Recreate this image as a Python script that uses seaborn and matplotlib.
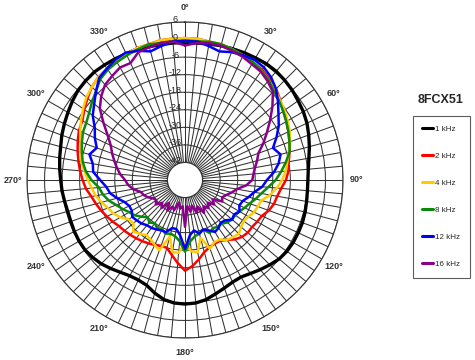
import numpy as np
import pandas as pd
import matplotlib
matplotlib.use("Agg")
import matplotlib.pyplot as plt
from matplotlib.lines import Line2D
import seaborn as sns

sns.set_style("white")
plt.rcParams['font.family'] = ['Liberation Sans', 'DejaVu Sans']

title = "8FCX51"
angles_deg = list(range(0, 360, 5))

db_1k = [-1, -1, -0.8, -0.5, -0.3, 0, 0.2, 0.5, 0.5, 0.2, -0.2, -0.8, -1.3, -2, -3, -4, -5, -5.7,
         -6, -6, -5.8, -5.5, -5.3, -5.3, -5.3, -5.5, -6, -7, -8, -9, -9.7, -9.5, -8.7, -7.7, -6.5, -5.8,
         -5.6, -5.8, -6.5, -8, -9.7, -10.3, -10.2, -9.5, -8.5, -7.5, -6.8, -6.3, -6.2, -6.3, -6.5, -6.5, -6.2, -5.8,
         -5.5, -5, -4.5, -4, -3.2, -2.5, -1.8, -1, -0.3, 0, 0.2, 0, -0.2, -0.4, -0.6, -0.8, -1, -1]
db_2k = [0.5, 0.5, 0, 0, -0.5, -1, -1.5, -2, -3, -4, -5.5, -7, -8, -9, -10, -11, -12, -12.5,
         -13.5, -15, -16, -16.5, -17.5, -19, -19.5, -20, -20, -20.5, -21.5, -23, -24, -24, -23.5, -22.5, -20.5, -18.5,
         -17, -19.5, -22, -24, -24, -23.5, -23, -22.5, -22, -21.5, -21, -20.5, -19.5, -18.5, -17.5, -16.5, -15.5, -14,
         -13, -12, -11, -10, -9, -8, -7.5, -6, -4.5, -3, -2, -1.5, -1, -0.5, 0, 0, 0.5, 0.5]
db_4k = [0.5, 0.5, 0, 0, -0.5, -1, -1.5, -2.5, -3.5, -4.5, -5.6, -6.5, -7.5, -8.5, -9.8, -11.3, -12.5, -13.5,
         -14.8, -16.5, -18.5, -21, -21.5, -22, -23, -23.5, -23, -22, -22.5, -23, -24.5, -24.5, -23, -27.5, -23, -23.5,
         -26.5, -23, -23, -28, -22.5, -23.5, -24.5, -25, -24, -23, -25, -24.5, -22.5, -21, -20, -18.5, -17, -16,
         -14.8, -13.5, -12, -11, -10, -8.5, -7, -5.5, -4, -3, -2, -1.5, -1, -0.5, 0, 0, 0.5, 0.5]
db_8k = [-0.5, -0.5, 0, 0, -0.5, -1, -1.5, -2.5, -3.5, -5, -6, -7, -8, -9, -10, -11, -13, -15,
         -17, -19.5, -21.5, -23, -24.5, -25.5, -26.5, -27, -27, -27.5, -28.5, -28.5, -29, -28, -30, -29, -28.5, -27,
         -23.5, -27, -28.5, -29, -28.5, -29.5, -29, -30, -29, -30, -28.5, -27, -26, -24.5, -23, -21, -19.5, -18.5,
         -16, -14, -12.5, -11.5, -10.5, -9.5, -9, -8, -6.5, -5, -3, -2, -1.5, -1, -0.5, 0, -0.5, -0.5]
db_12k = [-0.5, -0.5, -1.5, -2.5, -1.5, -1, -0.5, -1, -2.2, -4, -6.5, -9, -11, -13.5, -16, -14.2, -15.5, -17.5,
          -20, -21.5, -24, -25.5, -27, -27.5, -26.5, -27.5, -27, -28.5, -29, -28, -27.5, -29, -30, -29, -30.5, -29,
          -24.5, -29, -31, -31, -29, -29, -28.5, -28, -27.8, -27, -26.5, -26, -27, -27, -26, -24, -22, -21,
          -19, -16.5, -16, -14.2, -15.9, -14, -12.4, -9.5, -7.5, -5, -2.4, -1.5, -0.5, 0, -1, -2.5, -1.5, -0.5]
db_16k = [-2, -1, -0.5, -0.5, -1, -1.5, -2.3, -2.8, -4, -5.5, -9, -12.5, -15.7, -18.5, -21.3, -22.5, -23.7, -24.5,
          -25, -27, -30, -31.5, -33, -34, -33.3, -36.5, -35, -37, -35.5, -37, -35, -38, -36, -39, -37, -39,
          -32, -39, -38, -40, -37, -38, -36, -38.5, -35.5, -37, -35, -36, -35.5, -34, -33, -32.3, -30, -28.5,
          -27.5, -25.8, -24.4, -23, -21.5, -20, -17.5, -14, -10, -7.5, -5.5, -4.6, -3.6, -3.9, -1.5, -1, -0.5, -0.5]

series_names = ["1 kHz", "2 kHz", "4 kHz", "8 kHz", "12 kHz", "16 kHz"]
series_values = [db_1k, db_2k, db_4k, db_8k, db_12k, db_16k]
series_colors = ["#000000", "#ff0000", "#ffcc00", "#0a8a0a", "#0000ff", "#8b008b"]
series_widths = [2.4, 1.8, 1.8, 1.8, 1.8, 1.8]

ring_ticks = [6, 0, -6, -12, -18, -24, -30, -36, -42]
angle_ticks = list(range(0, 360, 30))

fig = plt.figure(figsize=(4.75, 3.6), dpi=100)
ax = fig.add_axes([27 / 475, 22 / 360, 316 / 475, 316 / 360], projection='polar')
ax.set_theta_zero_location('N')
ax.set_theta_direction(-1)
ax.set_rorigin(-48)
ax.set_ylim(-42, 6)

ax.set_xticks(np.deg2rad(np.arange(0, 360, 5)))
ax.set_xticklabels([])
ax.set_yticks(ring_ticks)
ax.set_yticklabels([])
ax.grid(True, color='#333333', lw=0.75)
ax.set_axisbelow(True)
for sp in ax.spines.values():
    sp.set_color('#333333')
    sp.set_linewidth(0.8)

rows = []
for name, vals in zip(series_names, series_values):
    th = np.deg2rad(angles_deg + [360])
    v = list(vals) + [vals[0]]
    rows.append(pd.DataFrame({"theta": th, "db": v, "series": name}))
df = pd.concat(rows, ignore_index=True)

for name, col, lw in zip(series_names, series_colors, series_widths):
    sub = df[df["series"] == name]
    sns.lineplot(data=sub, x="theta", y="db", ax=ax, color=col, lw=lw, sort=False,
                 estimator=None, legend=False)
ax.set_xlabel("")
ax.set_ylabel("")
ax.set_ylim(-42, 6)

for r in ring_ticks:
    ax.annotate(str(r), xy=(0, r), xytext=(-7, 1.5), textcoords='offset points',
                ha='center', va='center', fontsize=6.5, color='#222222')

for a in angle_ticks:
    ax.text(np.deg2rad(a), 10.8, f"{a}°", ha='center', va='center', fontsize=6.5,
            fontweight='bold', color='#333333', clip_on=False)

fig.text(0.928, 0.722, title, ha='center', va='center', fontsize=9, fontweight='bold')

handles = [Line2D([], [], color=c, lw=2.2) for c in series_colors]
leg = fig.legend(handles, series_names, loc='upper left', bbox_to_anchor=(0.869, 0.678),
                 fontsize=5.8, handlelength=1.3, handletextpad=0.3, labelspacing=2.4,
                 borderpad=1.2, frameon=True, fancybox=False, borderaxespad=0)
leg.get_frame().set_edgecolor('#333333')
leg.get_frame().set_linewidth(0.8)

fig.savefig("out.png", dpi=100)
